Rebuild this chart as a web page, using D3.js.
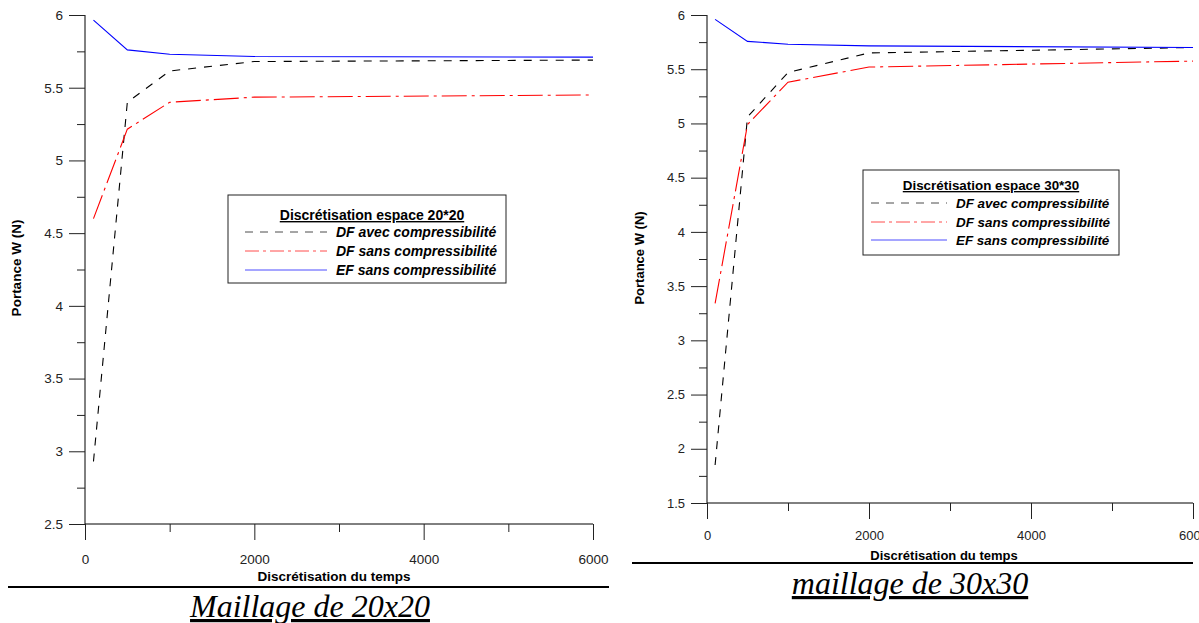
<!DOCTYPE html>
<html><head><meta charset="utf-8">
<script src="https://cdn.jsdelivr.net/npm/d3@7"></script>
<style>
body{margin:0;background:#fff;}
text{font-family:"Liberation Sans",Arial,sans-serif;}
</style></head>
<body><svg id="c" width="1199" height="623"></svg>
<script>
// ---- data ----
const steps = [100, 500, 1000, 2000, 6000];
const seriesNames = ["DF avec compressibilité", "DF sans compressibilité", "EF sans compressibilité"];
// Maillage 20x20
const dfAvec20 = [2.93, 5.40, 5.615, 5.68, 5.69];
const dfSans20 = [4.60, 5.215, 5.40, 5.435, 5.45];
const efSans20 = [5.965, 5.76, 5.73, 5.715, 5.71];
// Maillage 30x30
const dfAvec30 = [1.85, 5.06, 5.47, 5.65, 5.70];
const dfSans30 = [3.34, 4.99, 5.38, 5.52, 5.575];
const efSans30 = [5.96, 5.757, 5.73, 5.715, 5.70];
const xTicks = [0, 2000, 4000, 6000];
const yTicks20 = [2.5, 3, 3.5, 4, 4.5, 5, 5.5, 6];
const yTicks30 = [1.5, 2, 2.5, 3, 3.5, 4, 4.5, 5, 5.5, 6];

const svg = d3.select("#c");
const styles = [
  {color:"#000", dash:"8,8"},
  {color:"#f00", dash:"25,5,3,5"},
  {color:"#00f", dash:null}
];

function panel(o){
  const g = svg.append("g");
  const x = d3.scaleLinear().domain([0,6000]).range([o.x0, o.x1]);
  const y = d3.scaleLinear().domain(o.ydom).range([o.y1, o.y0]);
  // y axis
  const yMinor = d3.range(o.ydom[0], o.ydom[1]+0.001, 0.25).filter(v => Math.abs(v*2 - Math.round(v*2))>0.01);
  const ya = g.append("g").attr("transform",`translate(${o.x0},0)`)
    .call(d3.axisLeft(y).tickValues(o.yTicks).tickSize(16).tickPadding(6).tickFormat(d3.format("")));
  ya.select(".domain").attr("d", `M0,${o.y1}V${o.y0}`);
  ya.selectAll("text").attr("font-size", o.fs).attr("fill","#222");
  ya.selectAll("line").attr("stroke","#222");
  g.append("g").attr("transform",`translate(${o.x0},0)`)
    .call(d3.axisLeft(y).tickValues(yMinor).tickSize(8).tickFormat(""))
    .call(s=>s.select(".domain").remove()).selectAll("line").attr("stroke","#222");
  // x axis
  const xa = g.append("g").attr("transform",`translate(0,${o.y1})`)
    .call(d3.axisBottom(x).tickValues(xTicks).tickSize(16).tickPadding(o.xpad).tickFormat(d3.format("")));
  xa.select(".domain").attr("d", `M${o.x0},0H${o.x1}`);
  xa.selectAll("text").attr("font-size", o.fs).attr("fill","#222");
  xa.selectAll("line").attr("stroke","#222");
  g.append("g").attr("transform",`translate(0,${o.y1})`)
    .call(d3.axisBottom(x).tickValues([1000,3000,5000]).tickSize(8).tickFormat(""))
    .call(s=>s.select(".domain").remove()).selectAll("line").attr("stroke","#222");
  // lines
  const line = d3.line().x((d,i)=>x(steps[i])).y(d=>y(d));
  o.series.forEach((s,k)=>{
    const p = g.append("path").attr("d", line(s)).attr("fill","none")
      .attr("stroke", styles[k].color).attr("stroke-width",1.1);
    if(styles[k].dash) p.attr("stroke-dasharray", styles[k].dash);
  });
  // axis titles
  g.append("text").attr("x",(o.x0+o.x1)/2 - o.xtShift).attr("y",o.xtY).attr("text-anchor","middle")
    .attr("font-size",o.tfs).attr("font-weight","bold").text("Discrétisation du temps");
  g.append("text").attr("transform",`translate(${o.ytX},${o.ytY}) rotate(-90)`).attr("text-anchor","middle")
    .attr("font-size",o.tfs).attr("font-weight","bold").text("Portance W (N)");
  // legend
  const L = o.leg;
  g.append("rect").attr("x",L.x).attr("y",L.y).attr("width",L.w).attr("height",L.h)
    .attr("fill","#fff").attr("stroke","#222").attr("stroke-width",1);
  g.append("text").attr("x",L.x+L.w/2+L.tShift).attr("y",L.ty).attr("text-anchor","middle")
    .attr("font-size",L.fs).attr("font-weight","bold").attr("text-decoration","underline").text(L.title);
  seriesNames.forEach((n,k)=>{
    const ry = L.rows[k];
    const ln = g.append("line").attr("x1",L.lx0).attr("x2",L.lx1).attr("y1",ry).attr("y2",ry)
      .attr("stroke",styles[k].color).attr("stroke-width",1).attr("stroke-opacity",0.7);
    if(styles[k].dash) ln.attr("stroke-dasharray", k===0 ? "8,7" : "14,4,3,4");
    g.append("text").attr("x",L.tx).attr("y",ry+5).attr("font-size",L.fs)
      .attr("font-weight","bold").attr("font-style","italic").text(n);
  });
  // caption
  g.append("line").attr("x1",o.cap.x0).attr("x2",o.cap.x1).attr("y1",o.cap.ly).attr("y2",o.cap.ly)
    .attr("stroke","#000").attr("stroke-width",2);
  g.append("text").attr("x",o.cap.cx).attr("y",o.cap.ty).attr("text-anchor","middle")
    .style("font-family","'Liberation Serif','Times New Roman',serif").attr("font-size",32)
    .attr("font-style","italic").attr("text-decoration","underline").text(o.cap.text);
}

panel({x0:85,x1:593,y0:15,y1:524,ydom:[2.5,6],yTicks:yTicks20,fs:13.5,xpad:14,tfs:13.5,
  series:[dfAvec20,dfSans20,efSans20],xtY:581,xtShift:5,ytX:21,ytY:268,
  leg:{x:228,y:195,w:278,h:88,title:"Discrétisation espace 20*20",ty:220,tShift:5,fs:14,
       rows:[232,251,270],lx0:245,lx1:327,tx:336},
  cap:{x0:8,x1:609,ly:587,cx:310,ty:617,text:"Maillage de 20x20"}});

panel({x0:707,x1:1193,y0:15,y1:503,ydom:[1.5,6],yTicks:yTicks30,fs:13,xpad:12,tfs:13,
  series:[dfAvec30,dfSans30,efSans30],xtY:560,xtShift:6,ytX:644,ytY:258,
  leg:{x:863,y:170,w:256,h:85,title:"Discrétisation espace 30*30",ty:190,tShift:0,fs:13.4,
       rows:[203,222,240],lx0:871,lx1:947,tx:956},
  cap:{x0:632,x1:1193,ly:563,cx:910,ty:594,text:"maillage de 30x30"}});
</script></body></html>
